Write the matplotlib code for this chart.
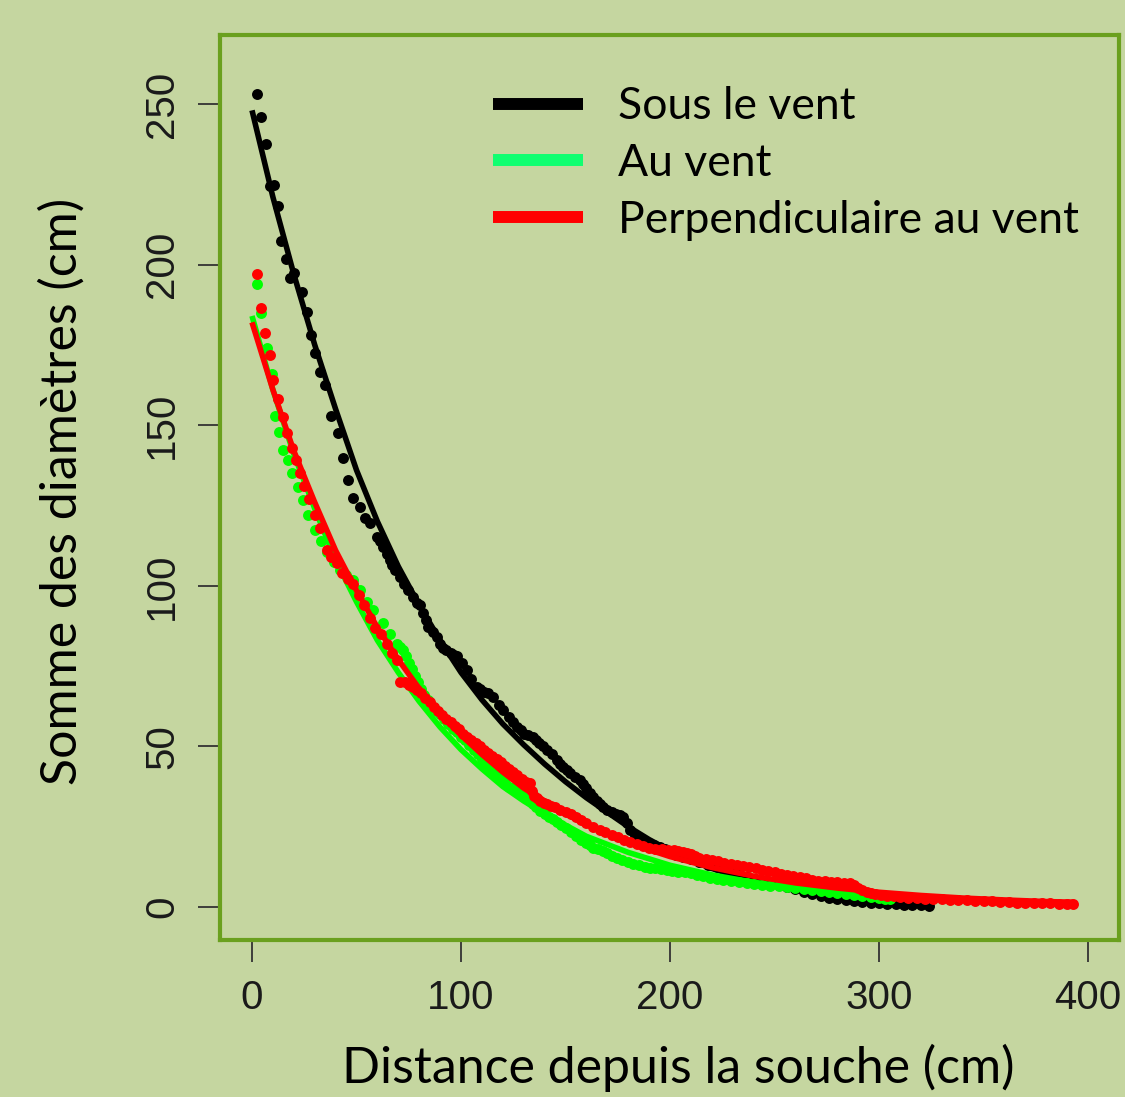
import matplotlib
matplotlib.use("Agg")
import matplotlib.pyplot as plt
from matplotlib.lines import Line2D

BG = '#c5d6a0'
FRAME = '#6aa01e'
LEG_GREEN = '#10ff70'
PT_GREEN = '#00ff00'

# Sous le vent : points
sous_x = [2.2, 4.2, 6.7, 8.6, 10.5, 12.6, 13.9, 16.1, 18.2, 20, 23.8, 26.5, 28, 30,
          32.5, 35, 38, 41.3, 43.7, 46.1, 48.5, 51.7, 54, 56.5, 59.7, 61, 62.8, 64.5,
          66, 67.2, 68.5, 70.8, 72.8, 74.8, 76.8, 78.8, 80.4, 82, 83.2, 84.4, 86.4,
          88.4, 90, 91.5, 93, 95, 96.5, 98, 100.5, 102.7, 105, 107.5, 109, 111, 113,
          115.5, 118, 120.3, 123, 124.8, 126.6, 128.5, 130, 132, 134.6, 136, 137.5,
          139, 141, 143.5, 145.8, 147.5, 149, 150.5, 152.2, 154.5, 157, 158.5, 160,
          161.8, 163.3, 165, 166.5, 168, 169.7, 172, 174, 176, 177.7, 179.5, 180.9,
          183, 185.6, 188, 190, 192.5, 195, 197.5, 200, 203, 206.4, 210, 214, 218,
          222.3, 226, 229, 233, 236.7, 240, 244, 248, 252, 256, 260, 264, 268, 272,
          276, 280, 284, 288, 292, 296, 300, 304, 308, 312, 316, 320, 324]
sous_y = [253, 245.8, 237.4, 224.4, 224.8, 218.3, 207.4, 201.7, 195.7, 197.3, 191.3,
          185.3, 178, 172.4, 166.7, 162.5, 153, 147.5, 139.7, 132.9, 127.3, 124.6, 121,
          119.4, 115.3, 114, 112.1, 110, 108, 106.5, 105, 102.8, 100.5, 98.7, 96.5,
          94.5, 94, 91.4, 89.5, 87.2, 85.5, 84.1, 82, 80.5, 80, 79, 78.5, 78, 76, 73.8,
          71, 68.6, 68, 67, 66.5, 65.4, 63, 61.3, 59, 57.5, 56.1, 55, 54, 53.5, 53, 52,
          51, 50, 48.9, 47.5, 45.8, 44.5, 43.5, 42.5, 41.6, 40.5, 39.5, 38.2, 37, 35.5,
          34.3, 33, 32, 31, 30.2, 29.5, 29, 28.5, 28.1, 26, 24, 22.5, 20.9, 20.3, 19.8,
          19.3, 18.8, 18, 17, 16.3, 15.6, 14.8, 14, 13.2, 12.5, 11.6, 11, 10.2, 9.4,
          8.7, 8, 7.4, 6.8, 6.2, 5.5, 4.8, 4, 3.4, 2.8, 2.5, 2.2, 1.9, 1.6, 1.4, 1.2,
          1, 0.9, 0.7, 0.6, 0.5, 0.4]

# Au vent : points
au_x = [2.2, 4.5, 7, 9.4, 11, 13, 15, 17, 19, 22.2, 24.6, 27, 30, 33, 36, 39, 42, 45,
        48.5, 51.7, 55, 58, 62.8, 66, 69.2, 70.8, 72.4, 73.8, 75, 76.5, 78, 79.5, 81,
        82.5, 84, 85.5, 87, 88.5, 90, 92, 94, 96, 98, 100, 102, 104, 106, 108, 110,
        111.5, 113, 115.5, 117, 119, 121, 123, 125, 127, 129, 131, 133, 134.6, 136,
        138, 140, 142, 144, 145.8, 148, 150, 152.5, 155, 157.5, 160, 161.6, 163.3,
        165.5, 168, 170, 172, 174.5, 177, 180, 182.4, 185, 188, 190.5, 193, 195.7,
        198.4, 201, 204, 207, 210, 213, 216, 219, 222.3, 225.5, 229, 233, 236.7, 240,
        244, 248, 252, 256, 260, 264, 268, 272, 276, 280, 284, 288, 292, 296, 300,
        303, 305]
au_y = [194, 185, 174, 166, 153, 148, 142.3, 139, 135, 130.8, 126.7, 122, 117.5, 114,
        110.5, 107.5, 105, 103.5, 101.8, 98.7, 95, 92.5, 88.3, 85, 82, 81, 80, 78, 76,
        74, 72, 70, 68, 66, 64.5, 63, 62, 61, 60, 58.5, 57, 55.5, 54.5, 53, 52, 50.5,
        49, 47.5, 46, 44.5, 43.5, 41.6, 41, 40, 38.5, 37.5, 37, 36, 35, 34, 33, 32, 31,
        30, 29, 28, 27.3, 26.5, 25.5, 24.5, 23.2, 22, 21, 20, 19.2, 18.5, 18, 17.5,
        16.8, 16, 15.2, 14.5, 14, 13.5, 13, 12.5, 12.2, 12, 11.8, 11.5, 11.2, 11, 10.8,
        10.5, 10, 9.5, 9.1, 8.8, 8.4, 8, 7.7, 7.4, 7.1, 6.8, 6.6, 6.4, 6.2, 6, 5.6,
        5.3, 5, 4.6, 4.3, 4, 3.6, 3.3, 3, 2.7, 2.5, 2.4]

# Perpendiculaire au vent : points
perp_x = [2.2, 4.2, 6.2, 8.6, 10, 12.5, 15, 16.6, 19, 21, 23, 25, 27.5, 30, 32.5, 35.8,
          38, 40.5, 43, 46, 48.5, 51, 53.5, 56.5, 59, 61.5, 64.6, 67, 69.5, 71, 73,
          75, 77, 79, 81, 83, 85, 87, 89, 91, 93, 95, 97, 99, 101, 103, 105, 107, 109,
          111, 113, 115, 117, 119, 121, 123, 125, 127, 129, 131, 133, 134, 135, 136.5,
          138, 139.5, 141, 143, 145, 147.5, 150, 152.5, 155, 157.5, 160, 163, 166.5,
          169, 172, 175, 178, 181, 184, 187, 190, 193, 196, 199, 202, 204, 206, 208,
          210, 212, 214, 217, 220, 223, 226, 229, 232, 235, 238, 241, 244, 247, 250,
          253, 256, 259, 262, 265, 268, 271, 274, 277, 280, 283, 286, 288, 290, 292,
          294, 296, 298, 301, 304, 307, 310, 314, 318, 322, 326, 330, 334, 338, 342,
          346, 350, 354, 358, 362, 366, 370, 374, 378, 382, 386, 390, 393]
perp_y = [197, 186.5, 178.7, 171.9, 164, 158, 152.6, 147.6, 143, 139, 135, 131, 127, 122,
          118, 111, 109, 107, 104, 102, 100.7, 97, 94, 90, 87, 85, 82, 79, 77, 70, 70,
          69.2, 68.5, 67.5, 66.5, 65, 63.7, 62.4, 61, 59.7, 58.5, 57.5, 56.5, 55.4, 54,
          53, 52, 51, 50, 49, 48, 47, 46, 45, 44, 43, 42, 41, 40, 39, 38.6, 36, 34.5,
          33.8, 33, 32.5, 32, 31.5, 31, 30.2, 29.5, 28.8, 28, 27, 26, 25, 24, 23.3,
          22.5, 21.7, 21, 20.2, 19.5, 19, 18.5, 18.2, 18, 17.8, 17.7, 17.5, 17.2, 16.8,
          16.5, 16, 15.3, 14.9, 14.5, 14.2, 13.8, 13.4, 13, 12.8, 12.5, 12, 11.5, 11.1,
          10.8, 10.4, 10, 9.7, 9.3, 8.9, 8.5, 8.2, 8, 7.9, 7.8, 7.6, 7.5, 6.8, 6, 5.3,
          4.7, 4.3, 4, 3.7, 3.5, 3.3, 3.1, 2.9, 2.8, 2.6, 2.5, 2.4, 2.3, 2.25, 2.2, 2,
          1.9, 1.8, 1.7, 1.55, 1.4, 1.3, 1.2, 1.15, 1.1, 1.05, 1, 1]

# courbes ajustées
fit_sous_x = [0, 10, 20, 30, 40, 50, 60, 70, 80, 90, 100, 110, 120, 130, 140, 150, 160,
              170, 180, 190, 200, 210, 220, 230, 240, 250, 260, 270, 280, 290, 300, 310, 324]
fit_sous_y = [248, 221, 197, 175, 155, 136, 120, 106, 94, 83, 73, 64.5, 57, 50.5, 44.5,
              39, 34, 29.5, 25, 21, 17.5, 14.5, 12, 10, 8.2, 6.6, 5.2, 3.9, 2.8, 2, 1.4,
              0.9, 0.4]

fit_au_x = [0, 10, 20, 30, 40, 50, 60, 70, 80, 90, 100, 110, 120, 130, 140, 150, 160, 170,
            180, 190, 200, 220, 240, 260, 280, 300]
fit_au_y = [184, 161, 141, 124, 108, 95, 83, 73, 64, 56, 49, 43, 37.5, 33, 29, 25.5, 22,
            19.5, 17, 15, 13, 10, 7.7, 6, 4.6, 3.5]

fit_perp_x = [0, 10, 20, 30, 40, 50, 60, 70, 80, 90, 100, 110, 120, 130, 140, 150, 160,
              170, 180, 190, 200, 220, 240, 260, 280, 300, 320, 340, 360, 380, 393]
fit_perp_y = [182, 161, 142, 126, 111, 98.5, 87, 77, 68, 60, 53.5, 47.5, 42, 37, 33, 29,
              25.7, 22.7, 20, 17.8, 15.7, 12.3, 9.6, 7.5, 5.9, 4.6, 3.6, 2.8, 2.2, 1.7, 1.5]

labels = ['Sous le vent', 'Au vent', 'Perpendiculaire au vent']

fig = plt.figure(figsize=(11.25, 10.97), dpi=100, facecolor=BG)
ax = fig.add_axes([0.19556, 0.14312, 0.79911, 0.82452])
ax.set_facecolor(BG)

ms = 62
ax.scatter(sous_x, sous_y, s=ms, color='black', linewidths=0, zorder=2)
ax.plot(fit_sous_x, fit_sous_y, color='black', lw=4, zorder=3, solid_capstyle='butt')
ax.scatter(au_x, au_y, s=ms, color=PT_GREEN, linewidths=0, zorder=4)
ax.plot(fit_au_x, fit_au_y, color=PT_GREEN, lw=4, zorder=5, solid_capstyle='butt')
ax.scatter(perp_x, perp_y, s=ms, color='red', linewidths=0, zorder=6)
ax.plot(fit_perp_x, fit_perp_y, color='red', lw=4, zorder=7, solid_capstyle='butt')

ax.set_xlim(-15.31, 414.8)
ax.set_ylim(-10.27, 271.3)
ax.set_xticks([0, 100, 200, 300, 400])
ax.set_yticks([0, 50, 100, 150, 200, 250])

for sp in ax.spines.values():
    sp.set_color(FRAME)
    sp.set_linewidth(3)

tick_font = {'family': 'Liberation Sans', 'size': 29}
ax.tick_params(direction='out', length=16, width=1.3, color='#333333',
               labelcolor='#1a1a1a')
ax.tick_params(axis='x', pad=12)
ax.tick_params(axis='y', pad=12)
for lab in ax.get_xticklabels():
    lab.set_fontproperties(tick_font)
for lab in ax.get_yticklabels():
    lab.set_fontproperties(tick_font)
    lab.set_rotation(90)
    lab.set_va('center')

lab_font = {'family': 'Lato', 'size': 36}
ax.set_xlabel('Distance depuis la souche (cm)', fontdict=lab_font, color='black')
ax.xaxis.set_label_coords(0.5095, -0.1415)
ax.xaxis.label.set_va('center')
ax.set_ylabel('Somme des diamètres (cm)', fontdict=lab_font, color='black')
ax.yaxis.set_label_coords(-0.1758, 0.4964)
ax.yaxis.label.set_va('center')

handles = [Line2D([], [], color='black', lw=8.6, solid_capstyle='butt'),
           Line2D([], [], color=LEG_GREEN, lw=8.6, solid_capstyle='butt'),
           Line2D([], [], color='red', lw=8.6, solid_capstyle='butt')]
leg = ax.legend(handles, labels, loc='upper left', bbox_to_anchor=(0.3037, 0.9437),
                frameon=False, prop={'family': 'Lato', 'size': 32},
                handlelength=2.03, handletextpad=0.79, labelspacing=0.35,
                borderpad=0, borderaxespad=0)

fig.savefig('out.png', dpi=100, facecolor=BG)
